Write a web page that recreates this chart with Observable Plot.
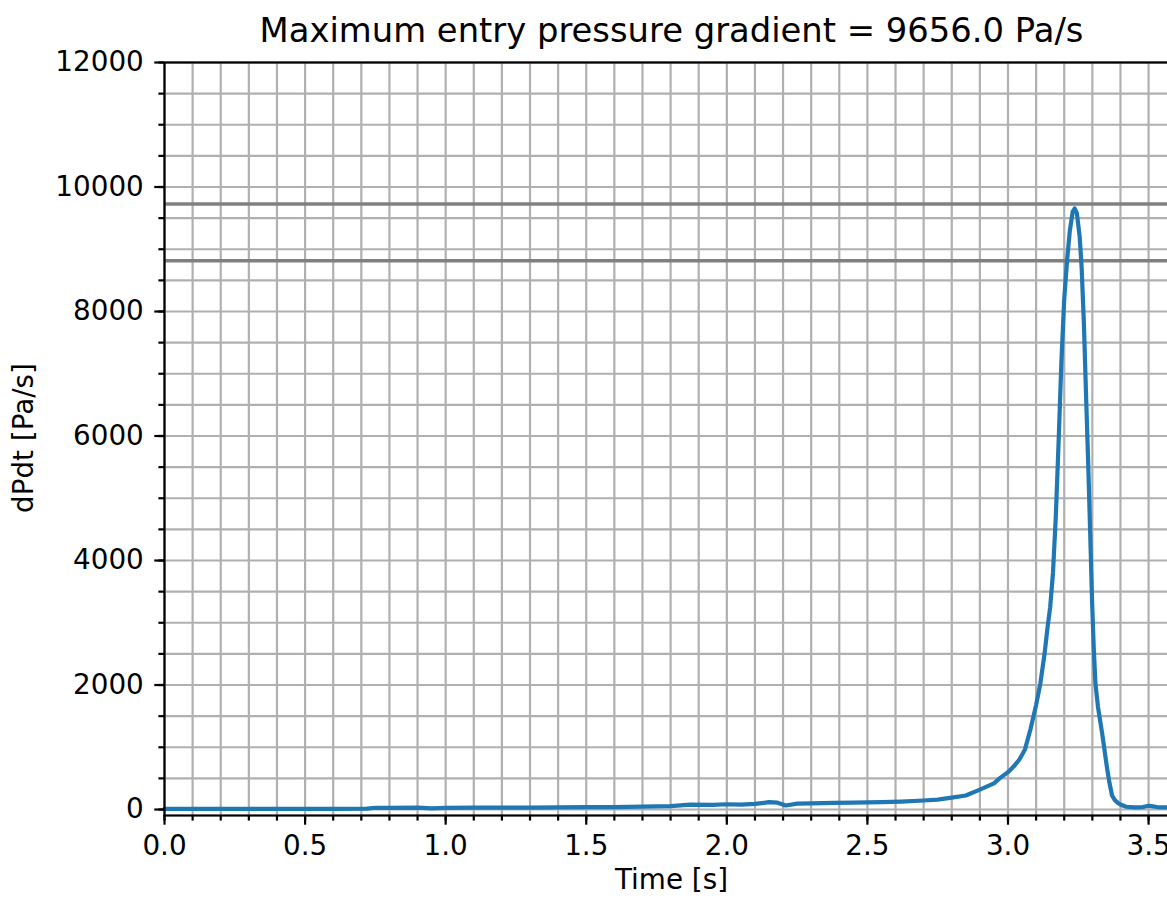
<!DOCTYPE html>
<html><head><meta charset="utf-8">
<script src="https://cdn.jsdelivr.net/npm/d3@7"></script>
<script src="https://cdn.jsdelivr.net/npm/@observablehq/plot@0.6"></script>
<style>
html,body{margin:0;padding:0;background:#fff;overflow:hidden;}
#wrap{position:relative;width:1167px;height:900px;overflow:hidden;font-family:"DejaVu Sans",sans-serif;color:#000;}
#chart{position:absolute;left:0;top:0;width:1190px;height:900px;}
#chart svg{max-width:none !important;width:1190px !important;height:900px !important;}
#title{position:absolute;left:164px;width:1015px;top:14px;text-align:center;font-size:33.8px;line-height:1;white-space:nowrap;}
#xlabel{position:absolute;left:164px;width:1015px;top:866px;text-align:center;font-size:27.8px;line-height:1;white-space:nowrap;}
#ylabel{position:absolute;left:24px;top:438px;transform:translate(-50%,-50%) rotate(-90deg);font-size:27.8px;line-height:1;white-space:nowrap;}
</style>
</head><body>
<div id="wrap">
  <div id="chart"></div>
  <div id="title">Maximum entry pressure gradient = 9656.0 Pa/s</div>
  <div id="xlabel">Time [s]</div>
  <div id="ylabel">dPdt [Pa/s]</div>
</div>
<script>
// Time [s]
const time = [0.00, 0.20, 0.40, 0.60, 0.72, 0.75, 0.80, 0.90, 0.95, 1.00, 1.10, 1.20, 1.30, 1.40, 1.50, 1.60, 1.70, 1.80, 1.87, 1.95, 2.00, 2.05, 2.10, 2.15, 2.18, 2.21, 2.25, 2.30, 2.38, 2.45, 2.55, 2.62, 2.70, 2.75, 2.80, 2.85, 2.90, 2.93, 2.95, 2.97, 3.00, 3.02, 3.04, 3.06, 3.08, 3.10, 3.115, 3.13, 3.14, 3.15, 3.16, 3.17, 3.18, 3.19, 3.20, 3.21, 3.22, 3.23, 3.237, 3.245, 3.255, 3.262, 3.27, 3.278, 3.285, 3.292, 3.299, 3.305, 3.311, 3.32, 3.335, 3.345, 3.352, 3.36, 3.37, 3.38, 3.39, 3.40, 3.42, 3.45, 3.48, 3.50, 3.51, 3.53, 3.56, 3.61];
// dP/dt [Pa/s]
const dpdt = [10, 10, 10, 12, 15, 28, 25, 30, 20, 28, 30, 32, 30, 35, 37, 40, 45, 55, 80, 75, 85, 80, 90, 118, 110, 65, 95, 100, 107, 110, 120, 128, 145, 160, 190, 225, 320, 380, 420, 500, 600, 690, 800, 960, 1290, 1680, 2023, 2500, 2900, 3250, 3800, 4700, 5900, 7200, 8200, 8815, 9300, 9600, 9656, 9580, 9200, 8700, 7800, 6600, 5600, 4500, 3356, 2600, 2023, 1650, 1220, 900, 674, 450, 225, 150, 110, 80, 45, 35, 40, 60, 55, 40, 35, 30];
// threshold lines
const hlines = [9725, 8815];
// ticks
const xMajor = [0.0, 0.5, 1.0, 1.5, 2.0, 2.5, 3.0, 3.5];
const yMajor = [0, 2000, 4000, 6000, 8000, 10000, 12000];
const xMinor = d3.range(0, 37).map(i => i / 10);
const yMinor = d3.range(0, 25).map(i => i * 500);

const data = time.map((t, i) => ({t, v: dpdt[i]}));
const grid = {stroke: "#b0b0b0", strokeOpacity: 1, strokeWidth: 2.2};

const chart = Plot.plot({
  width: 1190,
  height: 900,
  marginLeft: 164,
  marginRight: 11,
  marginTop: 62,
  marginBottom: 85,
  style: {fontFamily: "DejaVu Sans, sans-serif", fontSize: "27.8px", color: "#000", background: "#fff"},
  x: {domain: [0, 3.61], label: null},
  y: {domain: [-96, 12000], label: null},
  marks: [
    Plot.gridX(xMinor, grid),
    Plot.gridY(yMinor, grid),
    Plot.ruleY(hlines, {stroke: "#808080", strokeWidth: 3.5}),
    Plot.line(data, {x: "t", y: "v", stroke: "#1f77b4", strokeWidth: 4.2, strokeLinejoin: "round"}),
    Plot.axisX(xMinor, {tickSize: 5.6, tickFormat: () => "", strokeWidth: 2.2, label: null}),
    Plot.axisX(xMajor, {tickSize: 9.7, tickPadding: 10, strokeWidth: 2.2, tickFormat: d3.format(".1f"), label: null}),
    Plot.axisY(yMinor, {tickSize: 5.6, tickFormat: () => "", strokeWidth: 2.2, label: null}),
    Plot.axisY(yMajor, {tickSize: 9.7, tickPadding: 11, strokeWidth: 2.2, tickFormat: d3.format("d"), label: null}),
    Plot.frame({stroke: "#000", strokeWidth: 2.2})
  ]
});
document.getElementById("chart").appendChild(chart);
</script>
</body></html>
